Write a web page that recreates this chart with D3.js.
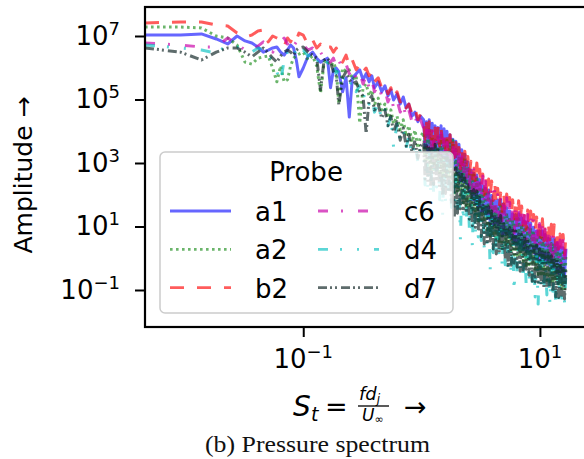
<!DOCTYPE html>
<html><head><meta charset="utf-8">
<script src="https://cdn.jsdelivr.net/npm/d3@7"></script>
<style>body{margin:0;background:#fff;} svg{display:block;font-family:"DejaVu Sans",sans-serif;}</style>
</head><body><svg id="c" width="584" height="459"></svg>
<script>
// Strouhal number grid (x values)
const st = [0.0046,0.0092,0.0138,0.0184,0.023,0.0276,0.0322,0.0368,0.0414,0.046,0.0506,0.0552,0.0598,0.0644,0.069,0.0736,0.0782,0.0828,0.0874,0.092,
0.1,0.11,0.12,0.13,0.14,0.15,0.16,0.17,0.18,0.19,0.2,0.215,0.23,0.245,0.26,0.28,0.3,0.32,0.34,0.36,0.38,0.4,0.43,0.46,0.49,0.52,0.55,0.58,0.62,0.66,0.7,0.74,0.78,0.83,0.88,0.93,0.98,
1.04,1.07,1.1,1.13,1.16,1.195,1.23,1.265,1.3,1.34,1.38,1.42,1.46,1.505,1.55,1.595,1.64,1.69,1.74,1.79,1.84,1.895,1.95,2.01,2.07,2.13,2.19,2.255,2.32,2.39,
2.46,2.535,2.61,2.685,2.76,2.845,2.93,3.015,3.1,3.195,3.29,3.385,3.48,3.585,3.69,3.8,3.91,4.03,4.15,4.275,4.4,4.53,4.66,4.8,4.94,5.09,5.24,5.395,5.55,5.715,
5.88,6.06,6.24,6.425,6.61,6.81,7.01,7.22,7.43,7.655,7.88,8.115,8.35,8.6,8.85,9.115,9.38,9.66,9.94,10.22,10.5,10.8,11.1,11.45,11.8,12.15,12.5,12.85,13.2,13.6,
14.0,14.4,14.8,15.25,15.7,16.15,16.6];

const a1 = [1.07e7,1.07e7,1.16e7,8.05e6,5.6e6,1e7,7.0e6,6.0e6,4.5e6,3.1e6,3.6e6,4.2e6,4.5e6,3.1e6,2.5e6,3.6e6,5.2e6,4.2e6,1.75e6,5.2e5,
9.8e5,2.35e6,3.1e6,2.0e6,1.5e6,1.75e6,2.0e6,2.35e5,8.6e5,9.8e5,7.5e5,1.75e5,4.8e5,2.8e4,4.8e5,6.5e5,8.6e5,4.2e5,6.5e5,3.6e5,5.6e5,2.35e5,3.6e5,1.75e5,2.7e5,1.3e5,2.0e5,9.6e4,1.5e5,7.2e4,1.2e5,5.4e4,7.2e4,3.0e4,4.0e4,2.0e4,3.0e4,
2.3e4,3.1e3,2.0e4,2.4e3,2.3e4,2.0e3,1.8e4,2.2e3,1.5e4,2.7e3,1.3e4,2.0e3,1.5e4,1.6e3,1.2e4,1.2e3,1.0e4,930,7.8e3,800,5.6e3,700,4.8e3,430,3.9e3,270,2.6e3,250,
1.9e3,220,1.1e3,120,600,70,480,52,420,34,300,30,190,29,160,18,140,12,95,11,65,9.6,68,7.0,70,5.0,52,5.4,39,5.8,31,4.2,25,3.0,24,2.8,25,2.6,19,2.0,
15,1.6,14,1.65,13,1.7,9.5,1.1,7.2,0.75,7.4,0.75,7.2,0.75,5.6,0.66,4.3,0.6,4.1,0.46,4.0,0.36,3.0,0.33,2.3,0.31,2.15,0.26,2.0];

const a2 = [1.92e7,1.92e7,1.79e7,1e7,8.65e6,5.2e6,1.5e6,1.3e6,2.0e6,2.2e6,2.35e6,9.8e5,3.6e5,1.14e6,3.6e5,4.2e5,1.14e6,2.0e6,2.5e6,2.7e6,
3.1e6,1.75e6,2.35e6,1.14e6,1.6e5,1.5e6,1.75e6,1.14e6,1.5e6,8.6e5,7.2e4,9.8e5,7.5e5,8.6e5,4.2e5,5.6e5,1.8e4,2.35e5,3.1e5,1.3e5,2.0e5,7.2e4,1.1e5,4.7e4,7.2e4,2.6e4,4.7e4,1.7e4,3.0e4,1.1e4,2.3e4,7.0e3,1.5e4,4.5e3,1.1e4,2.9e3,7.0e3,
9.3e3,1.0e3,9.0e3,700,1.1e4,560,7.0e3,620,5.2e3,650,6.6e3,420,8.6e3,340,6.0e3,360,5.2e3,340,4.6e3,190,5.2e3,114,2.6e3,120,1.4e3,99,1.5e3,55,
1.4e3,36,760,38,450,34,420,22,390,15,220,16,140,14,130,8.0,114,5.0,70,4.9,48,4.3,44,3.0,45,2.1,36,2.4,27,2.6,20,1.7,16,1.27,17,1.25,17.5,1.18,12,0.8,
9.6,0.52,9.2,0.62,9.0,0.7,6.2,0.45,4.7,0.31,4.6,0.32,4.3,0.31,3.2,0.2,2.6,0.15,2.9,0.17,3.0,0.19,2.1,0.13,1.6,0.1,1.5,0.09,1.36];

const b2 = [2.57e7,2.76e7,2.76e7,2.22e7,2.07e7,1.24e7,9.3e6,1.07e7,1.44e7,1.55e7,6.5e6,1e7,8.65e6,7.5e6,4.8e6,8.65e6,6.5e6,1e7,7.5e6,1.24e7,
1.07e7,5.2e6,7.5e6,4.2e6,5.6e6,3.6e6,4.5e6,4.5e6,3.1e6,4.2e6,2.35e6,1.5e6,2.5e6,1.14e6,1.75e6,8.6e5,1.3e6,7.5e5,9.8e5,5.6e5,7.5e5,3.6e5,4.8e5,2.35e5,3.1e5,1.5e5,2.35e5,1.1e5,1.75e5,8.3e4,1.1e5,5.4e4,7.2e4,3.5e4,5.4e4,2.3e4,3.5e4,
2.0e4,5.6e3,1.8e4,4.8e3,2.0e4,5.6e3,1.5e4,3.6e3,1.27e4,3.1e3,1.4e4,3.4e3,1.27e4,4.5e3,9.0e3,2.6e3,7.0e3,2.2e3,7.8e3,1.7e3,7.0e3,1.5e3,4.4e3,1.1e3,3.1e3,650,2.9e3,620,
2.35e3,700,1.6e3,450,1.14e3,313,1.1e3,280,1.0e3,292,640,170,450,99,400,90,313,93,270,66,252,52,160,40,114,29,115,31,106,36,82,24,70,17.5,68,17,65,16,44,11,
31,7.8,33,9.5,31,10.6,24,7.2,20,5.4,19,4.5,17.5,3.5,13,3.6,11.4,3.75,11.8,3.0,11.4,2.6,7.6,2.0,5.8,1.6,5.6,1.3,5.0];

const c6 = [6.0e6,5.2e6,4.5e6,4.5e6,8.65e6,5.6e6,3.6e6,3.1e6,4.8e6,6.5e6,4.2e6,3.1e6,4.8e6,6.5e6,8.65e6,5.6e6,7.5e6,4.8e6,6.5e6,4.2e6,
5.2e6,3.6e6,4.2e6,2.5e6,3.1e6,2.0e6,2.5e6,1.5e6,2.0e6,1.14e6,1.75e6,8.6e5,1.3e6,6.5e5,9.8e5,4.8e5,7.5e5,3.1e5,5.6e5,2.35e5,4.2e5,1.75e5,2.9e5,1.3e5,2.0e5,8.3e4,1.4e5,5.4e4,9.6e4,4.0e4,7.2e4,2.6e4,4.7e4,2.0e4,3.25e4,1.27e4,2.3e4,
1.27e4,3.1e3,1.1e4,2.4e3,1.5e4,2.35e3,1.2e4,2.9e3,8.0e3,2.7e3,7.0e3,1.8e3,8.6e3,1.4e3,6.6e3,1.6e3,4.5e3,1.4e3,3.6e3,800,4.2e3,520,2.6e3,500,1.9e3,420,2.0e3,360,
1.75e3,340,1.1e3,200,750,131,700,125,560,106,440,72,390,56,260,42,152,27,160,30,140,29,100,20,80,15,84,14,80,13,58,9.0,45,6.2,44,7.4,39,7.8,30,5.4,
22,4.0,24,3.9,23.5,3.75,17,2.6,13,2.0,12.5,2.2,10.6,2.3,8.0,1.5,5.8,1.02,6.4,1.1,6.7,1.1,5.0,0.82,3.75,0.65,3.6,0.6,3.25];

const d4 = [5.2e6,4.2e6,3.6e6,2.9e6,5.2e6,4.5e6,3.6e6,3.1e6,4.2e6,3.6e6,2.5e6,1.75e6,7.5e5,3.6e5,1.75e6,3.1e6,4.2e6,2.5e6,3.6e6,2.35e6,
3.6e6,2.35e6,2.7e6,1.5e6,2.0e6,1.14e6,1.5e6,8.6e5,1.14e6,6.5e5,8.6e5,4.2e5,5.6e5,2.7e5,4.2e5,1.75e5,2.7e5,1.1e5,1.75e5,7.2e4,1.1e5,4.0e4,7.2e4,2.3e4,4.7e4,1.5e4,3.0e4,3.1e3,1.7e4,5.2e3,1.1e4,2.9e3,7.0e3,1.6e3,4.5e3,1.06e3,2.5e3,
2.9e3,203,2.6e3,150,1.9e3,114,2.0e3,95,2.5e3,175,1.6e3,70,1.14e3,22,1.3e3,60,1.22e3,80,800,40,520,29,460,24,390,3.75,300,14,220,15,150,8.5,
106,2.4,98,6.0,86,4.7,62,3.6,45,2.1,34,2.2,23.5,0.42,22,1.5,20,1.36,13,0.9,9.0,0.56,8.8,0.62,8.3,0.52,6.6,0.3,5.4,0.087,5.0,0.28,4.7,0.34,3.4,0.2,
2.6,0.14,2.5,0.16,2.3,0.14,1.7,0.06,1.27,0.036,1.3,0.09,1.36,0.093,1.0,0.07,0.75,0.036,0.74,0.05,0.7,0.039,0.5,0.045,0.36,0.031,0.37,0.04,0.36];

const d7 = [4.2e6,3.1e6,1.75e6,3.1e6,4.2e6,4.2e6,3.1e6,2.2e6,3.1e6,4.2e6,2.9e6,2.0e6,1.5e6,2.35e6,3.1e6,3.6e6,3.1e6,2.5e6,3.6e6,4.2e6,
4.5e6,3.1e6,2.5e6,2.0e6,2.0e5,1.75e6,2.0e6,1.5e6,7.5e5,5.6e5,6.7e4,4.8e5,7.5e5,4.2e5,3.1e5,3.6e5,1.75e5,1.3e5,8.6e3,9.6e4,1.3e5,4.7e4,7.2e4,2.6e4,4.7e4,1.5e4,3.0e4,9.3e3,2.0e4,5.2e3,1.27e4,3.4e3,8.0e3,2.2e3,5.2e3,1.4e3,3.4e3,
4.5e3,313,3.6e3,230,2.9e3,175,3.3e3,210,3.9e3,270,2.6e3,160,1.75e3,93,1.8e3,110,1.9e3,122,1.2e3,50,800,19,700,26,600,36,450,31,340,27,240,17,
163,10.6,145,9.4,131,8.3,82,4.8,52,2.8,47,2.8,42,2.8,31,1.95,23.5,1.36,23,1.55,22,1.8,14.5,0.95,9.6,0.52,9.3,0.6,9.0,0.7,7.2,0.52,5.8,0.39,5.6,0.42,
5.4,0.45,4.0,0.29,3.0,0.19,2.8,0.18,2.6,0.175,2.0,0.145,1.6,0.122,1.5,0.118,1.46,0.114,1.2,0.083,1.02,0.06,0.88,0.058,0.75,0.056,0.6,0.052,0.48];

const probes = ["a1","a2","b2","c6","d4","d7"];
const seriesValues = [a1,a2,b2,c6,d4,d7];
const xTicks = [0.1, 10];
const xTickExp = ["−1","1"];
const yTicks = [1e-1, 1e1, 1e3, 1e5, 1e7];
const yTickExp = ["−1","1","3","5","7"];

// styles
const colors = ["#0000ff","#008000","#ff0000","#c800a8","#00bfbf","#0a2020"];
const opac = [0.6,0.58,0.64,0.68,0.64,0.66];
const dashes = ["none","2.6,3.4","14,13","10,13,2,15","10,12,2,15,2,15","9,3,2,3,2,4"];

const svg = d3.select("#c");
const L=145, T=7, R=590, B=327;
const x = d3.scaleLog().domain([0.0046, 26.5]).range([L, R]);
const y = d3.scaleLog().domain([0.00683, 8.19e7]).range([B, T]);

svg.append("defs").append("clipPath").attr("id","clip")
  .append("rect").attr("x",L).attr("y",T).attr("width",R-L).attr("height",B-T);

const line = d3.line().x((d,i)=>x(st[i])).y(d=>y(d));
const g = svg.append("g").attr("clip-path","url(#clip)");
seriesValues.forEach((vals,k)=>{
  g.append("path").attr("d", line(vals))
   .attr("fill","none").attr("stroke",colors[k]).attr("stroke-opacity",opac[k])
   .attr("stroke-width",3).attr("stroke-dasharray",dashes[k]).attr("stroke-linejoin","round");
});

// frame
svg.append("rect").attr("x",L).attr("y",T).attr("width",R-L).attr("height",B-T)
  .attr("fill","none").attr("stroke","#000").attr("stroke-width",2.2);

// axes ticks
const xa = svg.append("g").attr("transform",`translate(0,${B})`)
  .call(d3.axisBottom(x).tickValues(xTicks).tickSize(10).tickFormat(""));
const ya = svg.append("g").attr("transform",`translate(${L},0)`)
  .call(d3.axisLeft(y).tickValues(yTicks).tickSize(10).tickFormat(""));
[xa,ya].forEach(a=>{a.select(".domain").remove(); a.selectAll("line").attr("stroke","#000").attr("stroke-width",2);});

xTicks.forEach((v,i)=>{
  const t = svg.append("text").attr("x",x(v)).attr("y",368).attr("text-anchor","middle")
    .attr("font-size",26).attr("fill","#000");
  t.append("tspan").text("10");
  t.append("tspan").attr("dy",-10).attr("font-size",18).text(xTickExp[i]);
});
yTicks.forEach((v,i)=>{
  const t = svg.append("text").attr("x",120).attr("y",y(v)+9).attr("text-anchor","end")
    .attr("font-size",26).attr("fill","#000");
  t.append("tspan").text("10");
  t.append("tspan").attr("dy",-10).attr("font-size",18).text(yTickExp[i]);
});

// y label
svg.append("text").attr("transform","translate(32,175) rotate(-90)").attr("text-anchor","middle")
  .attr("font-size",25).attr("fill","#000").text("Amplitude →");

// x label (math)
const xl = svg.append("g").attr("fill","#000");
xl.append("text").attr("x",293).attr("y",416).attr("font-size",28).attr("font-style","italic").text("S");
xl.append("text").attr("x",311).attr("y",421).attr("font-size",19).attr("font-style","italic").text("t");
xl.append("text").attr("x",325).attr("y",416).attr("font-size",27).text("=");
const fn = xl.append("text").attr("x",359).attr("y",400).attr("font-size",18).attr("font-style","italic");
fn.append("tspan").text("fd");
fn.append("tspan").attr("dy",3).attr("font-size",12).text("j");
xl.append("line").attr("x1",358).attr("x2",389).attr("y1",406).attr("y2",406).attr("stroke","#000").attr("stroke-width",1.3);
const fd = xl.append("text").attr("x",362).attr("y",421).attr("font-size",17).attr("font-style","italic");
fd.append("tspan").text("U");
fd.append("tspan").attr("dy",2).attr("font-size",11).attr("font-style","normal").text("∞");
xl.append("text").attr("x",404).attr("y",416).attr("font-size",27).text("→");

// caption
svg.append("text").attr("x",205).attr("y",452)
  .attr("font-family","'Liberation Serif',serif").attr("font-size",24).attr("fill","#111")
  .attr("textLength",225).attr("lengthAdjust","spacingAndGlyphs")
  .text("(b) Pressure spectrum");

// legend
const lg = svg.append("g");
lg.append("rect").attr("x",160).attr("y",152).attr("width",293).attr("height",161).attr("rx",5)
  .attr("fill","#fff").attr("fill-opacity",0.8).attr("stroke","#cccccc").attr("stroke-width",1.5);
lg.append("text").attr("x",306).attr("y",181).attr("text-anchor","middle").attr("font-size",26).text("Probe");
probes.forEach((p,k)=>{
  const col = Math.floor(k/3), row = k%3;
  const hx = col===0 ? 170 : 318;
  const tx = col===0 ? 255 : 404;
  const by = 221 + row*38.3;
  lg.append("line").attr("x1",hx).attr("x2",hx+61).attr("y1",by-10).attr("y2",by-10)
    .attr("stroke",colors[k]).attr("stroke-opacity",opac[k]).attr("stroke-width",2.8)
    .attr("stroke-dasharray",dashes[k]);
  lg.append("text").attr("x",tx).attr("y",by).attr("font-size",26).text(p);
});
</script></body></html>
